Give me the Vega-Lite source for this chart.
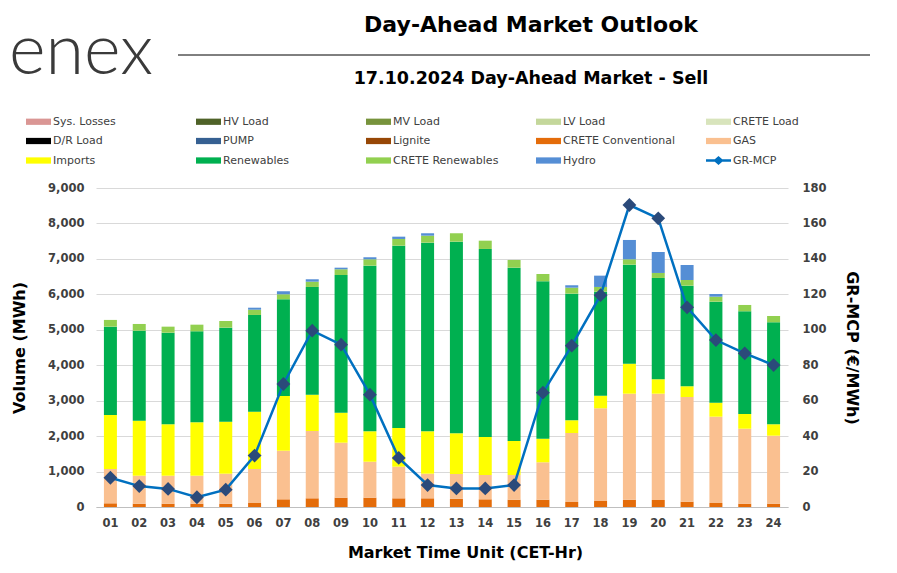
{
  "$schema": "https://vega.github.io/schema/vega-lite/v6.json",
  "autosize": "none",
  "width": 692,
  "height": 319,
  "padding": {"left": 96, "top": 188, "right": 109, "bottom": 66},
  "background": "white",
  "config": {
    "font": "DejaVu Sans",
    "view": {"stroke": null}
  },
  "title": {
    "text": "Day-Ahead Market Outlook",
    "subtitle": "17.10.2024  Day-Ahead Market - Sell",
    "fontSize": 22,
    "fontWeight": "bold",
    "color": "#000000",
    "subtitleFontSize": 17.5,
    "subtitleFontWeight": "bold",
    "subtitleColor": "#000000",
    "subtitlePadding": 33,
    "anchor": "middle",
    "dx": 89,
    "offset": -152
  },
  "datasets": {
    "types": [
      {"type": "Sys. Losses", "rank": 1}, {"type": "HV Load", "rank": 2}, {"type": "MV Load", "rank": 3},
      {"type": "LV Load", "rank": 4}, {"type": "CRETE Load", "rank": 5}, {"type": "D/R Load", "rank": 6},
      {"type": "PUMP", "rank": 7}, {"type": "Lignite", "rank": 8}, {"type": "CRETE Conventional", "rank": 9},
      {"type": "GAS", "rank": 10}, {"type": "Imports", "rank": 11}, {"type": "Renewables", "rank": 12},
      {"type": "CRETE Renewables", "rank": 13}, {"type": "Hydro", "rank": 14}
    ],
    "vol": [
      {"h": "01", "type": "CRETE Conventional", "v": 104}, {"h": "01", "type": "GAS", "v": 968}, {"h": "01", "type": "Imports", "v": 1524}, {"h": "01", "type": "Renewables", "v": 2492}, {"h": "01", "type": "CRETE Renewables", "v": 190},
      {"h": "02", "type": "CRETE Conventional", "v": 93}, {"h": "02", "type": "GAS", "v": 790}, {"h": "02", "type": "Imports", "v": 1552}, {"h": "02", "type": "Renewables", "v": 2540}, {"h": "02", "type": "CRETE Renewables", "v": 189},
      {"h": "03", "type": "CRETE Conventional", "v": 93}, {"h": "03", "type": "GAS", "v": 790}, {"h": "03", "type": "Imports", "v": 1451}, {"h": "03", "type": "Renewables", "v": 2584}, {"h": "03", "type": "CRETE Renewables", "v": 170},
      {"h": "04", "type": "CRETE Conventional", "v": 93}, {"h": "04", "type": "GAS", "v": 790}, {"h": "04", "type": "Imports", "v": 1507}, {"h": "04", "type": "Renewables", "v": 2567}, {"h": "04", "type": "CRETE Renewables", "v": 187},
      {"h": "05", "type": "CRETE Conventional", "v": 93}, {"h": "05", "type": "GAS", "v": 847}, {"h": "05", "type": "Imports", "v": 1467}, {"h": "05", "type": "Renewables", "v": 2653}, {"h": "05", "type": "CRETE Renewables", "v": 188},
      {"h": "06", "type": "CRETE Conventional", "v": 113}, {"h": "06", "type": "GAS", "v": 959}, {"h": "06", "type": "Imports", "v": 1617}, {"h": "06", "type": "Renewables", "v": 2729}, {"h": "06", "type": "CRETE Renewables", "v": 149}, {"h": "06", "type": "Hydro", "v": 56},
      {"h": "07", "type": "CRETE Conventional", "v": 217}, {"h": "07", "type": "GAS", "v": 1372}, {"h": "07", "type": "Imports", "v": 1543}, {"h": "07", "type": "Renewables", "v": 2729}, {"h": "07", "type": "CRETE Renewables", "v": 141}, {"h": "07", "type": "Hydro", "v": 85},
      {"h": "08", "type": "CRETE Conventional", "v": 245}, {"h": "08", "type": "GAS", "v": 1899}, {"h": "08", "type": "Imports", "v": 1025}, {"h": "08", "type": "Renewables", "v": 3039}, {"h": "08", "type": "CRETE Renewables", "v": 149}, {"h": "08", "type": "Hydro", "v": 68},
      {"h": "09", "type": "CRETE Conventional", "v": 263}, {"h": "09", "type": "GAS", "v": 1552}, {"h": "09", "type": "Imports", "v": 846}, {"h": "09", "type": "Renewables", "v": 3885}, {"h": "09", "type": "CRETE Renewables", "v": 161}, {"h": "09", "type": "Hydro", "v": 45},
      {"h": "10", "type": "CRETE Conventional", "v": 263}, {"h": "10", "type": "GAS", "v": 1015}, {"h": "10", "type": "Imports", "v": 858}, {"h": "10", "type": "Renewables", "v": 4673}, {"h": "10", "type": "CRETE Renewables", "v": 180}, {"h": "10", "type": "Hydro", "v": 57},
      {"h": "11", "type": "CRETE Conventional", "v": 245}, {"h": "11", "type": "GAS", "v": 892}, {"h": "11", "type": "Imports", "v": 1092}, {"h": "11", "type": "Renewables", "v": 5144}, {"h": "11", "type": "CRETE Renewables", "v": 189}, {"h": "11", "type": "Hydro", "v": 65},
      {"h": "12", "type": "CRETE Conventional", "v": 245}, {"h": "12", "type": "GAS", "v": 695}, {"h": "12", "type": "Imports", "v": 1196}, {"h": "12", "type": "Renewables", "v": 5322}, {"h": "12", "type": "CRETE Renewables", "v": 197}, {"h": "12", "type": "Hydro", "v": 68},
      {"h": "13", "type": "CRETE Conventional", "v": 234}, {"h": "13", "type": "GAS", "v": 697}, {"h": "13", "type": "Imports", "v": 1149}, {"h": "13", "type": "Renewables", "v": 5406}, {"h": "13", "type": "CRETE Renewables", "v": 237},
      {"h": "14", "type": "CRETE Conventional", "v": 217}, {"h": "14", "type": "GAS", "v": 686}, {"h": "14", "type": "Imports", "v": 1072}, {"h": "14", "type": "Renewables", "v": 5305}, {"h": "14", "type": "CRETE Renewables", "v": 234},
      {"h": "15", "type": "CRETE Conventional", "v": 206}, {"h": "15", "type": "GAS", "v": 697}, {"h": "15", "type": "Imports", "v": 959}, {"h": "15", "type": "Renewables", "v": 4890}, {"h": "15", "type": "CRETE Renewables", "v": 218},
      {"h": "16", "type": "CRETE Conventional", "v": 206}, {"h": "16", "type": "GAS", "v": 1055}, {"h": "16", "type": "Imports", "v": 666}, {"h": "16", "type": "Renewables", "v": 4442}, {"h": "16", "type": "CRETE Renewables", "v": 205},
      {"h": "17", "type": "CRETE Conventional", "v": 141}, {"h": "17", "type": "GAS", "v": 1947}, {"h": "17", "type": "Imports", "v": 358}, {"h": "17", "type": "Renewables", "v": 3573}, {"h": "17", "type": "CRETE Renewables", "v": 169}, {"h": "17", "type": "Hydro", "v": 68},
      {"h": "18", "type": "CRETE Conventional", "v": 169}, {"h": "18", "type": "GAS", "v": 2616}, {"h": "18", "type": "Imports", "v": 355}, {"h": "18", "type": "Renewables", "v": 2935}, {"h": "18", "type": "CRETE Renewables", "v": 133}, {"h": "18", "type": "Hydro", "v": 319},
      {"h": "19", "type": "CRETE Conventional", "v": 206}, {"h": "19", "type": "GAS", "v": 2991}, {"h": "19", "type": "Imports", "v": 846}, {"h": "19", "type": "Renewables", "v": 2794}, {"h": "19", "type": "CRETE Renewables", "v": 152}, {"h": "19", "type": "Hydro", "v": 545},
      {"h": "20", "type": "CRETE Conventional", "v": 198}, {"h": "20", "type": "GAS", "v": 2999}, {"h": "20", "type": "Imports", "v": 406}, {"h": "20", "type": "Renewables", "v": 2859}, {"h": "20", "type": "CRETE Renewables", "v": 141}, {"h": "20", "type": "Hydro", "v": 592},
      {"h": "21", "type": "CRETE Conventional", "v": 150}, {"h": "21", "type": "GAS", "v": 2954}, {"h": "21", "type": "Imports", "v": 302}, {"h": "21", "type": "Renewables", "v": 2839}, {"h": "21", "type": "CRETE Renewables", "v": 160}, {"h": "21", "type": "Hydro", "v": 423},
      {"h": "22", "type": "CRETE Conventional", "v": 113}, {"h": "22", "type": "GAS", "v": 2435}, {"h": "22", "type": "Imports", "v": 395}, {"h": "22", "type": "Renewables", "v": 2850}, {"h": "22", "type": "CRETE Renewables", "v": 141}, {"h": "22", "type": "Hydro", "v": 76},
      {"h": "23", "type": "CRETE Conventional", "v": 93}, {"h": "23", "type": "GAS", "v": 2116}, {"h": "23", "type": "Imports", "v": 415}, {"h": "23", "type": "Renewables", "v": 2898}, {"h": "23", "type": "CRETE Renewables", "v": 178},
      {"h": "24", "type": "CRETE Conventional", "v": 93}, {"h": "24", "type": "GAS", "v": 1919}, {"h": "24", "type": "Imports", "v": 322}, {"h": "24", "type": "Renewables", "v": 2878}, {"h": "24", "type": "CRETE Renewables", "v": 177}
    ],
    "mcp": [
      {"h": "01", "p": 16.5}, {"h": "02", "p": 11.8}, {"h": "03", "p": 10.2}, {"h": "04", "p": 5.5},
      {"h": "05", "p": 9.8}, {"h": "06", "p": 29.0}, {"h": "07", "p": 69.4}, {"h": "08", "p": 99.5},
      {"h": "09", "p": 91.6}, {"h": "10", "p": 63.4}, {"h": "11", "p": 27.7}, {"h": "12", "p": 12.4},
      {"h": "13", "p": 10.5}, {"h": "14", "p": 10.5}, {"h": "15", "p": 12.4}, {"h": "16", "p": 64.5},
      {"h": "17", "p": 91.0}, {"h": "18", "p": 119.5}, {"h": "19", "p": 170.4}, {"h": "20", "p": 162.9},
      {"h": "21", "p": 112.7}, {"h": "22", "p": 94.2}, {"h": "23", "p": 86.7}, {"h": "24", "p": 80.1}
    ]
  },
  "layer": [
    {
      "data": {"name": "vol"},
      "transform": [
        {"lookup": "type", "from": {"data": {"name": "types"}, "key": "type", "fields": ["rank"]}}
      ],
      "mark": {"type": "bar", "size": 13},
      "encoding": {
        "x": {
          "field": "h",
          "type": "ordinal",
          "title": "Market Time Unit (CET-Hr)",
          "axis": {
            "labelAngle": 0,
            "ticks": false,
            "domainColor": "#BFBFBF",
            "domainWidth": 1,
            "labelFontSize": 11.5,
            "labelFontWeight": "bold",
            "labelColor": "#404040",
            "labelPadding": 10,
            "titleFontSize": 16,
            "titleFontWeight": "bold",
            "titleColor": "#000000",
            "titlePadding": 16,
            "titleX": 369
          }
        },
        "y": {
          "field": "v",
          "type": "quantitative",
          "stack": "zero",
          "scale": {"domain": [0, 9000], "nice": false},
          "axis": {
            "title": "Volume (MWh)",
            "values": [0, 1000, 2000, 3000, 4000, 5000, 6000, 7000, 8000, 9000],
            "format": ",.0f",
            "grid": true,
            "gridColor": "#D9D9D9",
            "domain": false,
            "ticks": false,
            "labelPadding": 12,
            "labelFontSize": 11.5,
            "labelFontWeight": "bold",
            "labelColor": "#404040",
            "titleFontSize": 16,
            "titleFontWeight": "bold",
            "titleColor": "#000000",
            "titlePadding": 20
          }
        },
        "order": {"field": "rank", "type": "quantitative", "sort": "ascending"},
        "color": {
          "field": "type",
          "type": "nominal",
          "scale": {
            "domain": ["Sys. Losses", "HV Load", "MV Load", "LV Load", "CRETE Load", "D/R Load", "PUMP", "Lignite", "CRETE Conventional", "GAS", "Imports", "Renewables", "CRETE Renewables", "Hydro", "GR-MCP"],
            "range": ["#DA9694", "#4F6228", "#77933C", "#C4D79B", "#D8E4BC", "#000000", "#366092", "#974706", "#E46C0A", "#FAC090", "#FFFF00", "#00B050", "#92D050", "#558ED5", "#0070C0"]
          },
          "legend": {
            "title": null,
            "orient": "none",
            "legendX": -70,
            "legendY": -79,
            "direction": "horizontal",
            "columns": 5,
            "gridAlign": "all",
            "columnPadding": 31,
            "rowPadding": 1.5,
            "symbolType": "M-1,-0.25H1V0.25H-1Z",
            "symbolSize": 625,
            "symbolStrokeWidth": 0,
            "symbolOpacity": 1,
            "labelFontSize": 11,
            "labelColor": "#404040",
            "labelOffset": 2,
            "labelLimit": 200,
            "encode": {
              "symbols": {
                "update": {
                  "shape": {"signal": "datum.value === 'GR-MCP' ? 'M-1,-0.1H-0.3L0,-0.36L0.3,-0.1H1V0.1H0.3L0,0.36L-0.3,0.1H-1Z' : 'M-1,-0.25H1V0.25H-1Z'"}
                }
              }
            }
          }
        }
      }
    },
    {
      "data": {"name": "mcp"},
      "mark": {
        "type": "line",
        "color": "#0070C0",
        "strokeWidth": 2.5,
        "point": {"shape": "diamond", "size": 190, "filled": true, "color": "#2B4A7A", "opacity": 1}
      },
      "encoding": {
        "x": {
          "field": "h",
          "type": "ordinal",
          "title": "enex",
          "axis": {
            "orient": "top",
            "labels": false,
            "ticks": false,
            "grid": false,
            "domain": true,
            "domainColor": "#000000",
            "domainWidth": 1,
            "offset": 215,
            "translate": 82,
            "titleX": -97,
            "titleY": 19,
            "titleAlign": "center",
            "titleBaseline": "alphabetic",
            "titleAngle": 0,
            "titleFont": "Lato",
            "titleFontSize": 70,
            "titleFontWeight": 300,
            "titleColor": "#3A3A3A"
          }
        },
        "y": {
          "field": "p",
          "type": "quantitative",
          "scale": {"domain": [0, 180], "nice": false},
          "axis": {
            "title": "GR-MCP (€/MWh)",
            "orient": "right",
            "values": [0, 20, 40, 60, 80, 100, 120, 140, 160, 180],
            "grid": false,
            "domain": false,
            "ticks": false,
            "labelPadding": 14,
            "labelFontSize": 11.5,
            "labelFontWeight": "bold",
            "labelColor": "#404040",
            "titleFontSize": 16,
            "titleFontWeight": "bold",
            "titleColor": "#000000",
            "titlePadding": 17
          }
        }
      }
    }
  ],
  "resolve": {"scale": {"y": "independent"}, "axis": {"x": "independent"}}
}
